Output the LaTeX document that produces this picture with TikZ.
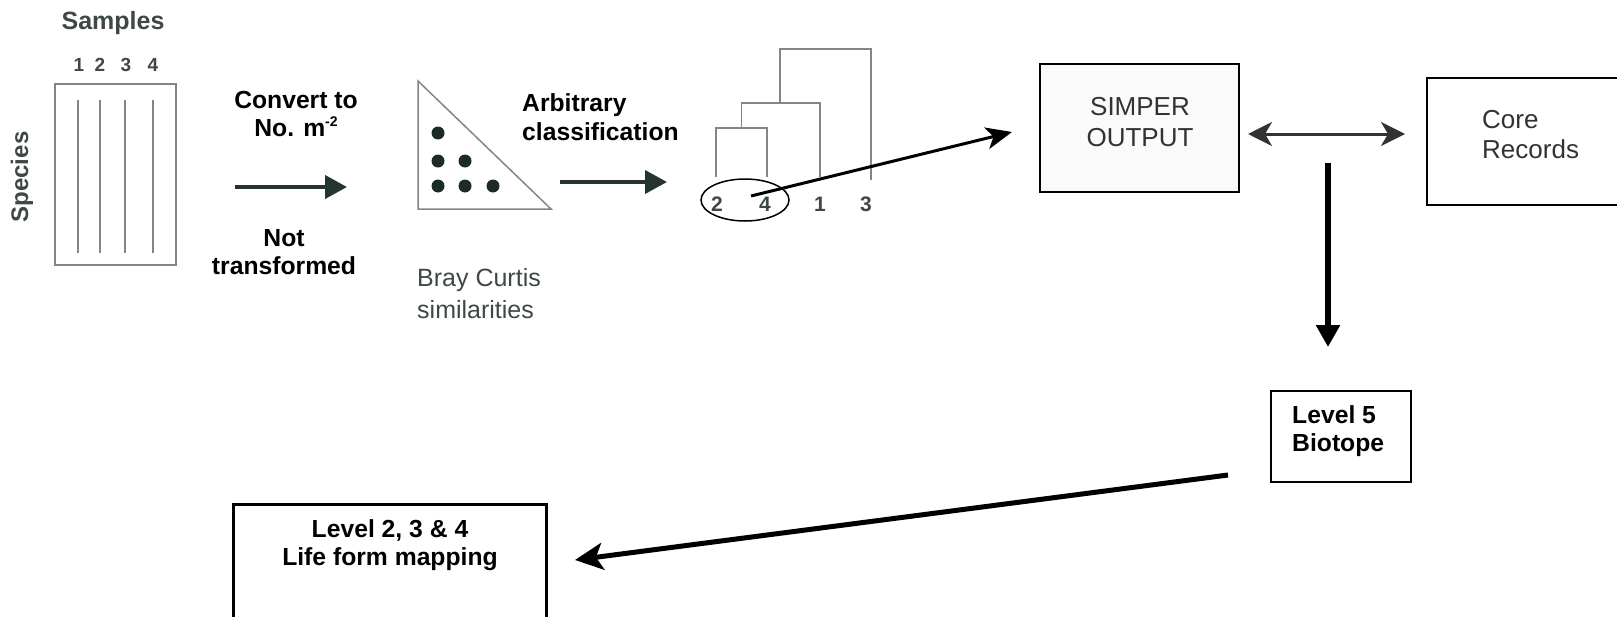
\documentclass[tikz,border=0pt]{standalone}
\usepackage{fontspec}
\setmainfont{Liberation Sans}
\usetikzlibrary{arrows.meta,shapes.geometric}
\definecolor{rastertext}{RGB}{62,72,70}
\definecolor{rasterline}{RGB}{130,134,133}
\definecolor{rasterarrow}{RGB}{38,52,46}
\definecolor{dotcol}{RGB}{28,44,36}
\definecolor{boxtext}{RGB}{50,50,50}
\definecolor{boxfill}{RGB}{250,250,250}
\tikzset{
  rtxt/.style={text=rastertext, font=\bfseries\fontsize{25}{29}\selectfont, inner sep=0pt},
  rnum/.style={text=rastertext, font=\bfseries\fontsize{19}{22}\selectfont, inner sep=0pt},
  dnum/.style={text=rastertext, font=\bfseries\fontsize{21}{24}\selectfont, inner sep=0pt},
  rthin/.style={draw=rasterline, line width=1.5pt},
  rarrow/.style={draw=rasterarrow, line width=4pt, -{Triangle[length=22pt,width=23pt]}},
  lbl/.style={font=\bfseries\fontsize{24.7}{28.5}\selectfont, inner sep=0pt},
  plain/.style={font=\fontsize{26}{30.5}\selectfont, text=boxtext, inner sep=0pt},
  grayplain/.style={font=\fontsize{25}{32}\selectfont, text=rastertext, inner sep=0pt},
  frame/.style={draw=black, line width=2pt},
}
\begin{document}
\begin{tikzpicture}[x=1pt,y=-1pt]
\useasboundingbox (0,0) rectangle (1617,616);
% Samples matrix
\node[rtxt] (samples) at (113,23) {Samples};
\node[rnum] (n1) at (79,65) {1};
\node[rnum] (n2) at (100,65) {2};
\node[rnum] (n3) at (126,65) {3};
\node[rnum] (n4) at (153,65) {4};
\node[rtxt, rotate=90, font=\bfseries\fontsize{24}{28}\selectfont] (species) at (22,177) {Species};
\draw[rthin] (55,84) rectangle (176,265);
\foreach \x in {78,100,125,153} \draw[rthin] (\x,100) -- (\x,253);
% first arrow and labels
\node[lbl, align=center] (convert) at (296,114) {Convert to\\No. m\raisebox{10pt}{\fontsize{14}{14}\selectfont -2}};
\node[lbl, align=center] (nottr) at (284,252) {Not\\transformed};
\coordinate (a1s) at (235,187);
\coordinate (a1e) at (347,187);
\draw[rarrow] (a1s) -- (a1e);
% triangle
\draw[rthin, line join=miter] (418,81) -- (418,209) -- (551,209) -- cycle;
\foreach \p in {(438,133),(438,161),(465,161),(438,186),(465,186),(493,186)}
  \fill[dotcol] \p circle (6.5);
\node[grayplain, align=left, anchor=west] (bray) at (417,294) {Bray Curtis\\similarities};
\node[lbl, align=left, anchor=west] (arb) at (522,117) {Arbitrary\\classification};
\coordinate (a2s) at (560,182);
\coordinate (a2e) at (667,182);
\draw[rarrow] (a2s) -- (a2e);
% dendrogram
\draw[rthin] (716,177) -- (716,128) -- (767,128) -- (767,177);
\draw[rthin] (741.5,128) -- (741.5,103) -- (820,103) -- (820,177);
\draw[rthin] (780,103) -- (780,49) -- (871,49) -- (871,180);
\node[dnum] (d2) at (717,204) {2};
\node[dnum] (d4) at (765,204) {4};
\node[dnum] (d1) at (820,204) {1};
\node[dnum] (d3) at (866,204) {3};
\node[draw=black, line width=1.5pt, ellipse, minimum width=88pt, minimum height=42pt, inner sep=0pt] (ell) at (745,200) {};
\coordinate (dstart) at (751,196);
\coordinate (dend) at (1012,132);
\draw[line width=3pt, -{Stealth[length=26pt,width=22pt,inset=7pt]}] (dstart) -- (dend);
% SIMPER box
\node[frame, fill=boxfill, minimum width=199pt, minimum height=128pt, inner sep=0pt] (simper) at (1139.5,128) {};
\node[plain, align=center] (simpertxt) at (1140,122) {SIMPER\\OUTPUT};
% Core records box
\draw[frame] (1640,78) -- (1427,78) -- (1427,205) -- (1640,205);
\coordinate (corew) at (1427,134);
\node[plain, align=left, anchor=west] (coretxt) at (1482,134.5) {Core\\Records};
\draw[line width=3pt, draw=boxtext, {Stealth[length=24pt,width=24pt,inset=7pt]}-{Stealth[length=24pt,width=24pt,inset=7pt]}, shorten <=8pt, shorten >=22pt] (simper.east |- corew) -- (corew);
% Level 5 box
\node[frame, minimum width=140pt, minimum height=91pt, inner sep=0pt] (lev5) at (1341,436.5) {};
\node[lbl, align=left, anchor=west] (lev5txt) at (1292,431) {Level 5\\Biotope};
\coordinate (vtop) at (1328,163);
\draw[line width=6pt, -{Triangle[length=22pt,width=23pt]}, shorten >=43pt] (vtop) -- (vtop |- lev5.north);
% Life form box
\draw[draw=black, line width=3pt] (233,630) -- (233,504) -- (546,504) -- (546,630);
\coordinate (lifeE) at (546,560);
\node[lbl, align=center] (lifetxt) at (390,545) {Level 2, 3 \& 4\\Life form mapping};
\coordinate (lstart) at (1228,475);
\coordinate (lend) at (575,560);
\draw[line width=5pt, -{Stealth[length=28pt,width=27pt,inset=7pt]}] (lstart) -- (lend);
\end{tikzpicture}
\end{document}
